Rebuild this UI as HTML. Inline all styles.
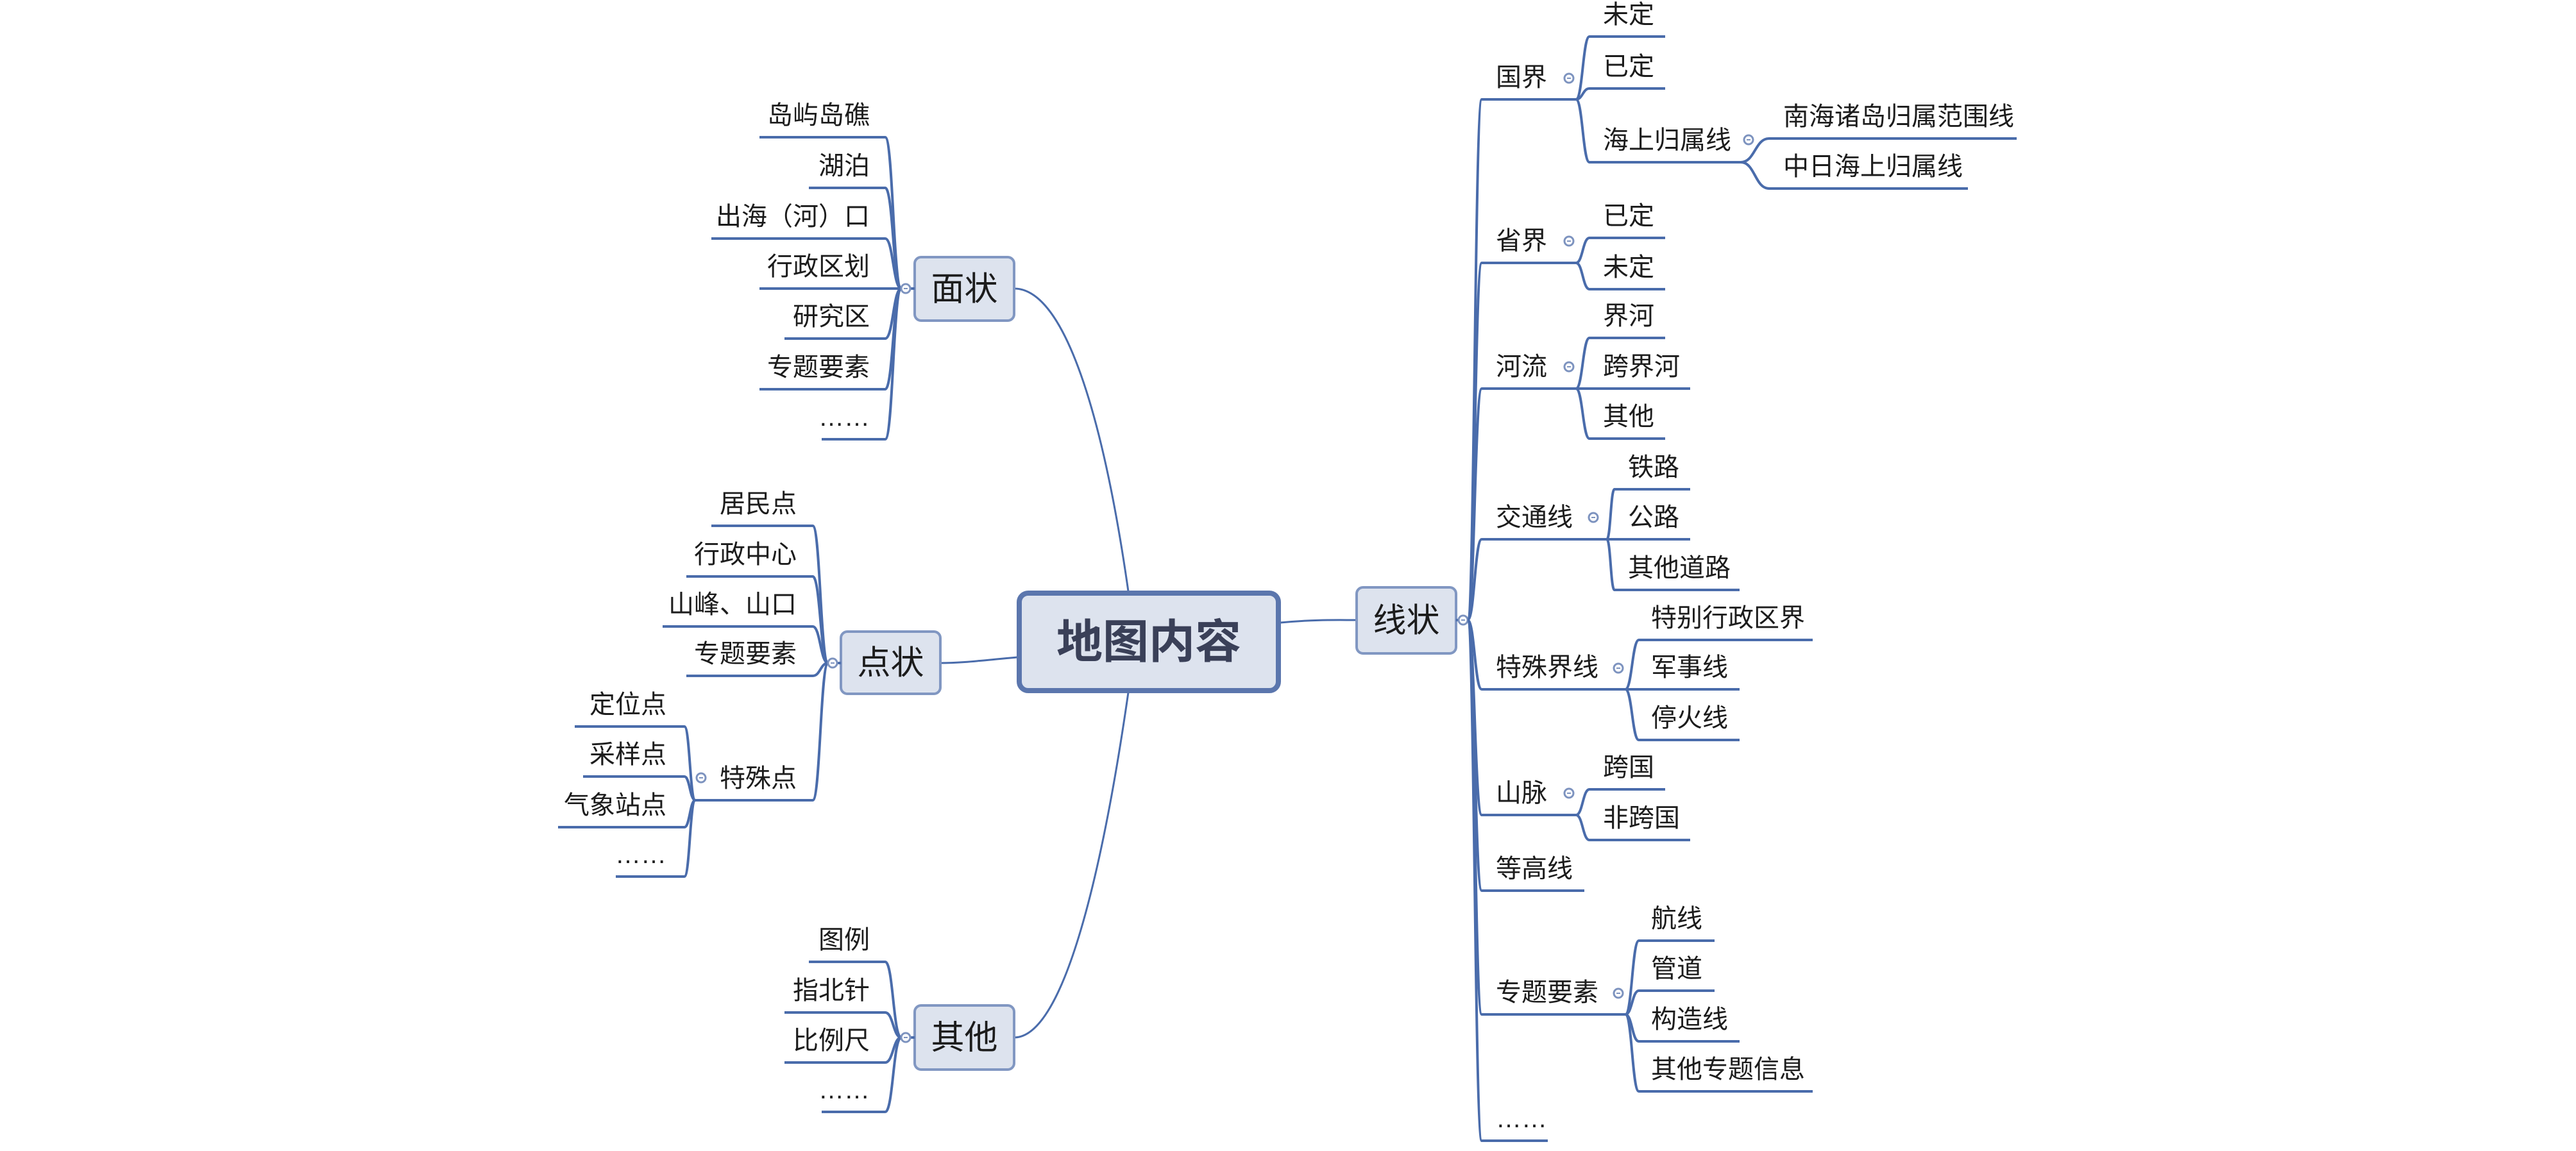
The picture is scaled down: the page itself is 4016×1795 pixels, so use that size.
<!DOCTYPE html>
<html><head><meta charset="utf-8">
<style>
html,body{margin:0;padding:0;background:#fff;}
svg{display:block;}
text{font-family:"Liberation Sans","Noto Sans CJK SC",sans-serif;fill:#1c1c1c;}
</style></head>
<body>
<svg id="s" xmlns="http://www.w3.org/2000/svg" width="4016" height="1795" viewBox="0 0 4016 1795">
<g id="L" fill="none" stroke="#4a6cab" stroke-width="4"></g>
<g id="T" font-size="40"></g>
</svg>
<script>
const NS="http://www.w3.org/2000/svg";
const L=document.getElementById('L'),T=document.getElementById('T'),S=document.getElementById('s');
function el(tag,attrs,parent,txt){const e=document.createElementNS(NS,tag);for(const k in attrs)e.setAttribute(k,attrs[k]);if(txt!==undefined)e.textContent=txt;(parent||L).appendChild(e);return e;}
function curve(px,py,cx,cy,w){const mx=px+(cx-px)*0.5;el('path',{d:`M${px},${py} C${mx},${py} ${mx},${cy} ${cx},${cy}`,'stroke-width':w||4});}
function line(x1,x2,y){el('path',{d:`M${x1},${y} H${x2}`});}
function circ(x,y){el('circle',{cx:x,cy:y,r:7,fill:'#fff',stroke:'#7d93bf','stroke-width':3});el('path',{d:`M${x-3},${y} H${x+3}`,stroke:'#7d93bf','stroke-width':2});}
function txt(x,y,s,anchor){el('text',{x:x,y:y,'text-anchor':anchor||'start'},T,s);}
// main connectors
el('path',{d:'M1759,922 C1720,650 1660,450 1581,450','stroke-width':3});
el('path',{d:'M1759,1080 C1720,1350 1660,1618 1581,1618','stroke-width':3});
el('path',{d:'M1586,1025 C1530,1030 1500,1034 1466,1034','stroke-width':3});
el('path',{d:'M1996,971 C2050,966 2080,967 2115,967','stroke-width':3});
// boxes
function box(x1,y1,x2,y2,s){el('rect',{x:x1,y:y1,width:x2-x1,height:y2-y1,rx:10,fill:'#dde3ee',stroke:'#8197c2','stroke-width':4});el('text',{x:(x1+x2)/2,y:(y1+y2)/2+18,'text-anchor':'middle','font-size':52,fill:'#2a2a2a'},T,s);}
el('rect',{x:1589,y:925,width:404,height:152,rx:14,fill:'#dde3ee',stroke:'#5b76ad','stroke-width':8});
el('text',{x:1791,y:1026,'text-anchor':'middle','font-size':72,'font-weight':'bold',style:'fill:#3a4058'},T,'地图内容');
box(1426,401,1581,500,'面状');
box(1311,985,1466,1082,'点状');
box(1426,1568,1581,1668,'其他');
box(2115,916,2270,1019,'线状');
// left groups
function leftGroup(items,end,hubX,hubY,textEnd){items.forEach(([s,y,x])=>{line(x,end,y);curve(end,y,hubX,hubY);txt(textEnd,y-21,s,'end');});}
leftGroup([['岛屿岛礁',214,1184],['湖泊',293,1261],['出海（河）口',372,1109],['行政区划',450,1184],['研究区',528,1223],['专题要素',607,1184],['……',685,1281]],1380,1405,450,1356);
line(1419,1426,450);circ(1412,450);
leftGroup([['居民点',820,1109],['行政中心',899,1070],['山峰、山口',977,1033],['专题要素',1054,1070],['特殊点',1248,1084]],1267,1291,1034,1242);
line(1305,1311,1034);circ(1298,1034);
leftGroup([['定位点',1133,896],['采样点',1211,909],['气象站点',1290,870],['……',1367,960]],1067,1084,1248,1039);
circ(1093,1213);
leftGroup([['图例',1500,1261],['指北针',1579,1223],['比例尺',1657,1223],['……',1734,1281]],1380,1405,1618,1356);
line(1419,1426,1618);circ(1412,1618);
// right
line(2270,2274,967);circ(2281,967);
const L1=[['国界',155,2457,[2446,122]],['省界',410,2457,[2446,376]],['河流',606,2457,[2446,572]],['交通线',841,2505,[2484,807]],['特殊界线',1075,2534,[2523,1042]],['山脉',1271,2457,[2446,1237]],['等高线',1389,2470,null],['专题要素',1582,2534,[2523,1549]],['……',1779,2413,null]];
L1.forEach(([s,y,end,c])=>{curve(2288,967,2310,y);line(2310,end,y);txt(2332,y-21,s);if(c)circ(c[0],c[1]);});
function rightGroup(px,py,start,tx,items){items.forEach(([s,y,end])=>{curve(px,py,start,y);line(start,end,y);txt(tx,y-21,s);});}
rightGroup(2457,155,2478,2499,[['未定',57,2596],['已定',138,2596],['海上归属线',253,2714]]);
rightGroup(2714,253,2758,2780,[['南海诸岛归属范围线',216,3144],['中日海上归属线',294,3068]]);
circ(2726,218);
rightGroup(2457,410,2478,2499,[['已定',371,2596],['未定',451,2596]]);
rightGroup(2457,606,2478,2499,[['界河',527,2596],['跨界河',606,2635],['其他',684,2596]]);
rightGroup(2505,841,2517,2538,[['铁路',763,2635],['公路',841,2635],['其他道路',920,2712]]);
rightGroup(2534,1075,2555,2574,[['特别行政区界',998,2826],['军事线',1075,2712],['停火线',1154,2712]]);
rightGroup(2457,1271,2478,2499,[['跨国',1231,2596],['非跨国',1310,2635]]);
rightGroup(2534,1582,2555,2574,[['航线',1467,2673],['管道',1545,2673],['构造线',1624,2712],['其他专题信息',1702,2826]]);
</script>
</body></html>
